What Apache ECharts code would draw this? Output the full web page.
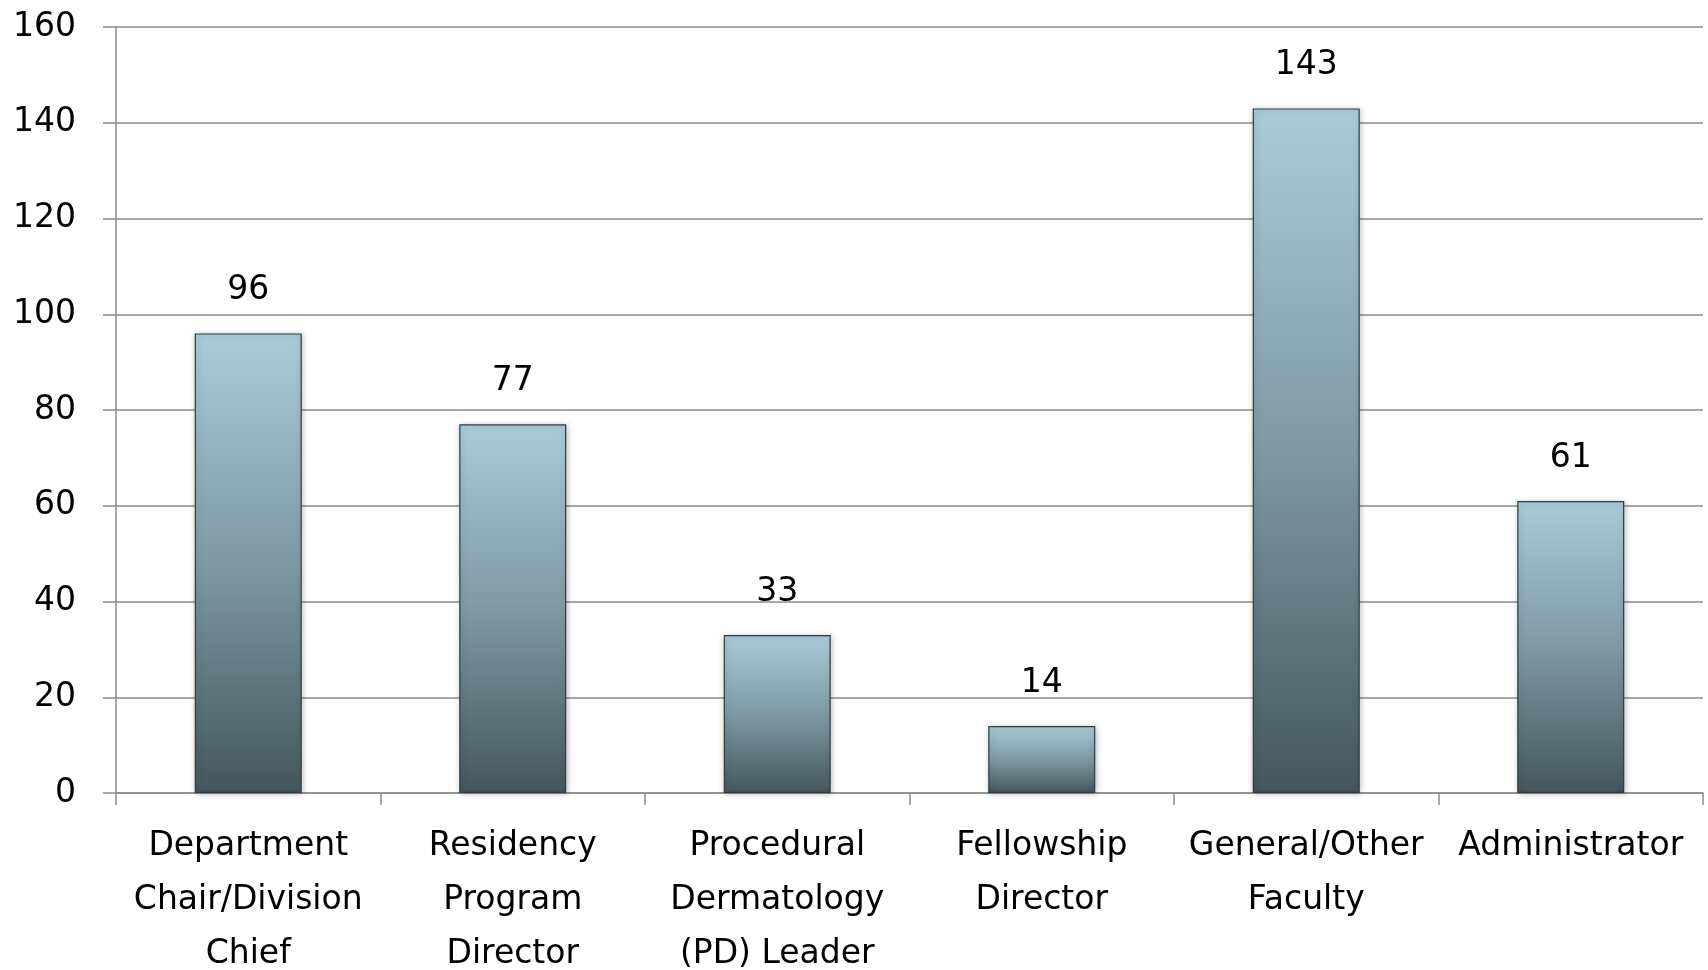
<!DOCTYPE html>
<html>
<head>
<meta charset="utf-8">
<title>Respondents by role</title>
<script src="https://cdn.jsdelivr.net/npm/echarts@6/dist/echarts.min.js"></script>
<style>
  html, body { margin: 0; padding: 0; background: #fff; }
  #main { width: 1708px; height: 970px; }
</style>
</head>
<body>
<div id="main"></div>
<script>
var categories = [
  'Department\nChair/Division\nChief',
  'Residency\nProgram\nDirector',
  'Procedural\nDermatology\n(PD) Leader',
  'Fellowship\nDirector',
  'General/Other\nFaculty',
  'Administrator'
];
var counts = [96, 77, 33, 14, 143, 61];
var yTicks = { min: 0, max: 160, interval: 20 };

var font = '"DejaVu Sans", "Noto Sans", sans-serif';
var myChart = echarts.init(document.getElementById('main'));

var option = {
  backgroundColor: '#ffffff',
  animation: false,
  grid: { left: 116, right: 5, top: 27, bottom: 177, outerBoundsMode: 'none', containLabel: false },
  xAxis: {
    type: 'category',
    data: categories,
    axisLine: { show: true, lineStyle: { color: '#8c8c8c', width: 1.5 } },
    axisTick: { show: true, length: 12, lineStyle: { color: '#8c8c8c', width: 1.5 } },
    axisLabel: {
      color: '#000',
      fontFamily: font,
      fontSize: 33,
      lineHeight: 54,
      margin: 26,
      interval: 0
    }
  },
  yAxis: {
    type: 'value',
    min: yTicks.min,
    max: yTicks.max,
    interval: yTicks.interval,
    axisLine: { show: true, lineStyle: { color: '#8c8c8c', width: 1.5 } },
    axisTick: { show: true, length: 13, lineStyle: { color: '#8c8c8c', width: 1.5 } },
    splitLine: { show: true, lineStyle: { color: '#8c8c8c', width: 1.5 } },
    axisLabel: {
      color: '#000',
      fontFamily: font,
      fontSize: 33,
      margin: 40
    }
  },
  series: [
    {
      type: 'bar',
      data: counts,
      barWidth: 107,
      itemStyle: {
        color: new echarts.graphic.LinearGradient(0, 0, 0, 1, [
          { offset: 0, color: '#aacbd8' },
          { offset: 0.5, color: '#7d9aa4' },
          { offset: 1, color: '#45565d' }
        ]),
        borderColor: '#2f3d43',
        borderWidth: 1.2,
        shadowColor: 'rgba(0,0,0,0.25)',
        shadowBlur: 6,
        shadowOffsetX: 1,
        shadowOffsetY: 1
      },
      label: {
        show: true,
        position: 'top',
        distance: 26,
        color: '#000',
        fontFamily: font,
        fontSize: 33
      }
    }
  ]
};

myChart.setOption(option);
</script>
</body>
</html>
